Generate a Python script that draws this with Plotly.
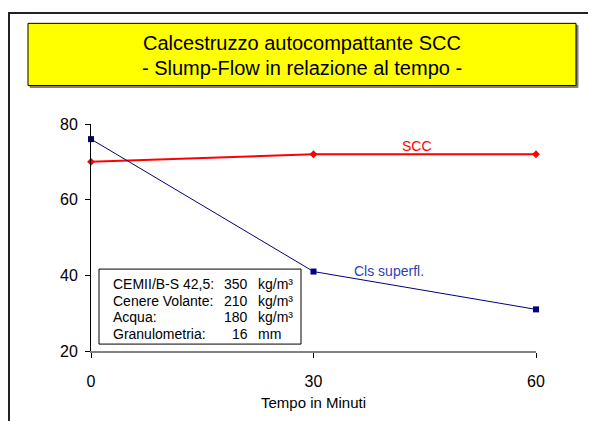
import plotly.graph_objects as go

# ---- data ----
minutes = [0, 30, 60]
scc_values = [70, 72, 72]
cls_values = [76, 41, 31]
y_ticks = [20, 40, 60, 80]
x_ticks = [0, 30, 60]
series_names = ["SCC", "Cls superfl."]
title_lines = ["Calcestruzzo autocompattante SCC", "- Slump-Flow in relazione al tempo -"]
x_title = "Tempo in Minuti"
mix_labels = ["CEMII/B-S 42,5:", "Cenere Volante:", "Acqua:", "Granulometria:"]
mix_values = ["350", "210", "180", "16"]
mix_units = ["kg/m³", "kg/m³", "kg/m³", "mm"]

OFF = 8  # page body margin
W, H = 596 - OFF, 421 - OFF
L, T = 91 - OFF, 124 - OFF
PW, PH = 536 - 91, 354 - 124
R, B = W - L - PW, H - T - PH
FONT = "Liberation Sans, Arial, sans-serif"


def px(x):
    return (x - OFF - L) / PW


def py(y):
    return (T + PH - (y - OFF)) / PH


fig = go.Figure()
fig.add_trace(go.Scatter(
    x=minutes, y=scc_values, mode="lines+markers", name=series_names[0],
    line=dict(color="#FF0000", width=2),
    marker=dict(symbol="diamond", size=6, color="#FF0000"),
    cliponaxis=False, showlegend=False))
fig.add_trace(go.Scatter(
    x=minutes, y=cls_values, mode="lines+markers", name=series_names[1],
    line=dict(color="#000080", width=1),
    marker=dict(symbol="square", size=6, color="#000080"),
    cliponaxis=False, showlegend=False))

shapes = []
# outer chart border
shapes.append(dict(type="rect", xref="paper", yref="paper",
                   x0=px(9), x1=px(610), y0=py(440), y1=py(11.5),
                   line=dict(color="#222222", width=2), fillcolor="rgba(0,0,0,0)", layer="below"))
# title box shadow + box
shapes.append(dict(type="rect", xref="paper", yref="paper",
                   x0=px(30), x1=px(578), y0=py(87), y1=py(24),
                   line=dict(color="#808080", width=1), fillcolor="#808080", layer="below"))
shapes.append(dict(type="rect", xref="paper", yref="paper",
                   x0=px(28), x1=px(576), y0=py(85), y1=py(22),
                   line=dict(color="#000000", width=1), fillcolor="#FFFF00", layer="below"))
# mix text box
shapes.append(dict(type="rect", xref="paper", yref="paper",
                   x0=px(99), x1=px(301), y0=py(347), y1=py(271),
                   line=dict(color="#000000", width=1), fillcolor="#FFFFFF", layer="above"))

annotations = []
for i, line in enumerate(title_lines):
    annotations.append(dict(xref="paper", yref="paper", x=px(302), y=py(42 + 25 * i),
                            text=line, showarrow=False, xanchor="center", yanchor="middle",
                            font=dict(family=FONT, size=20, color="#000000")))
for i in range(len(mix_labels)):
    yy = py(286 + 17 * i)
    annotations.append(dict(xref="paper", yref="paper", x=px(111), y=yy, text=mix_labels[i],
                            showarrow=False, xanchor="left", yanchor="middle",
                            font=dict(family=FONT, size=14, color="#000000")))
    annotations.append(dict(xref="paper", yref="paper", x=px(250), y=yy, text=mix_values[i],
                            showarrow=False, xanchor="right", yanchor="middle",
                            font=dict(family=FONT, size=14, color="#000000")))
    annotations.append(dict(xref="paper", yref="paper", x=px(256), y=yy, text=mix_units[i],
                            showarrow=False, xanchor="left", yanchor="middle",
                            font=dict(family=FONT, size=14, color="#000000")))
# series labels
annotations.append(dict(x=44, y=74.3, text=series_names[0], showarrow=False,
                        font=dict(family=FONT, size=14, color="#FF0000")))
annotations.append(dict(x=40.2, y=41.2, text=series_names[1], showarrow=False,
                        font=dict(family=FONT, size=14, color="#2E3FB8")))

fig.update_layout(
    width=W, height=H,
    margin=dict(l=L, r=R, t=T, b=B, pad=0),
    paper_bgcolor="#FFFFFF", plot_bgcolor="#FFFFFF",
    font=dict(family=FONT, color="#000000"),
    shapes=shapes, annotations=annotations,
    xaxis=dict(range=[0, 60], tickvals=x_ticks, showgrid=False, zeroline=False,
               showline=True, linecolor="#808080", linewidth=2,
               ticks="outside", ticklen=5, tickcolor="#000000", tickwidth=1,
               ticklabelstandoff=10,
               tickfont=dict(family=FONT, size=16, color="#000000"),
               title=dict(text=x_title, font=dict(family=FONT, size=15, color="#000000"), standoff=8)),
    yaxis=dict(range=[20, 80], tickvals=y_ticks, showgrid=False, zeroline=False,
               showline=True, linecolor="#000000", linewidth=1,
               ticks="outside", ticklen=5, tickcolor="#000000", tickwidth=1,
               ticklabelstandoff=4,
               tickfont=dict(family=FONT, size=16, color="#000000")),
)

fig.write_html("out.html")
